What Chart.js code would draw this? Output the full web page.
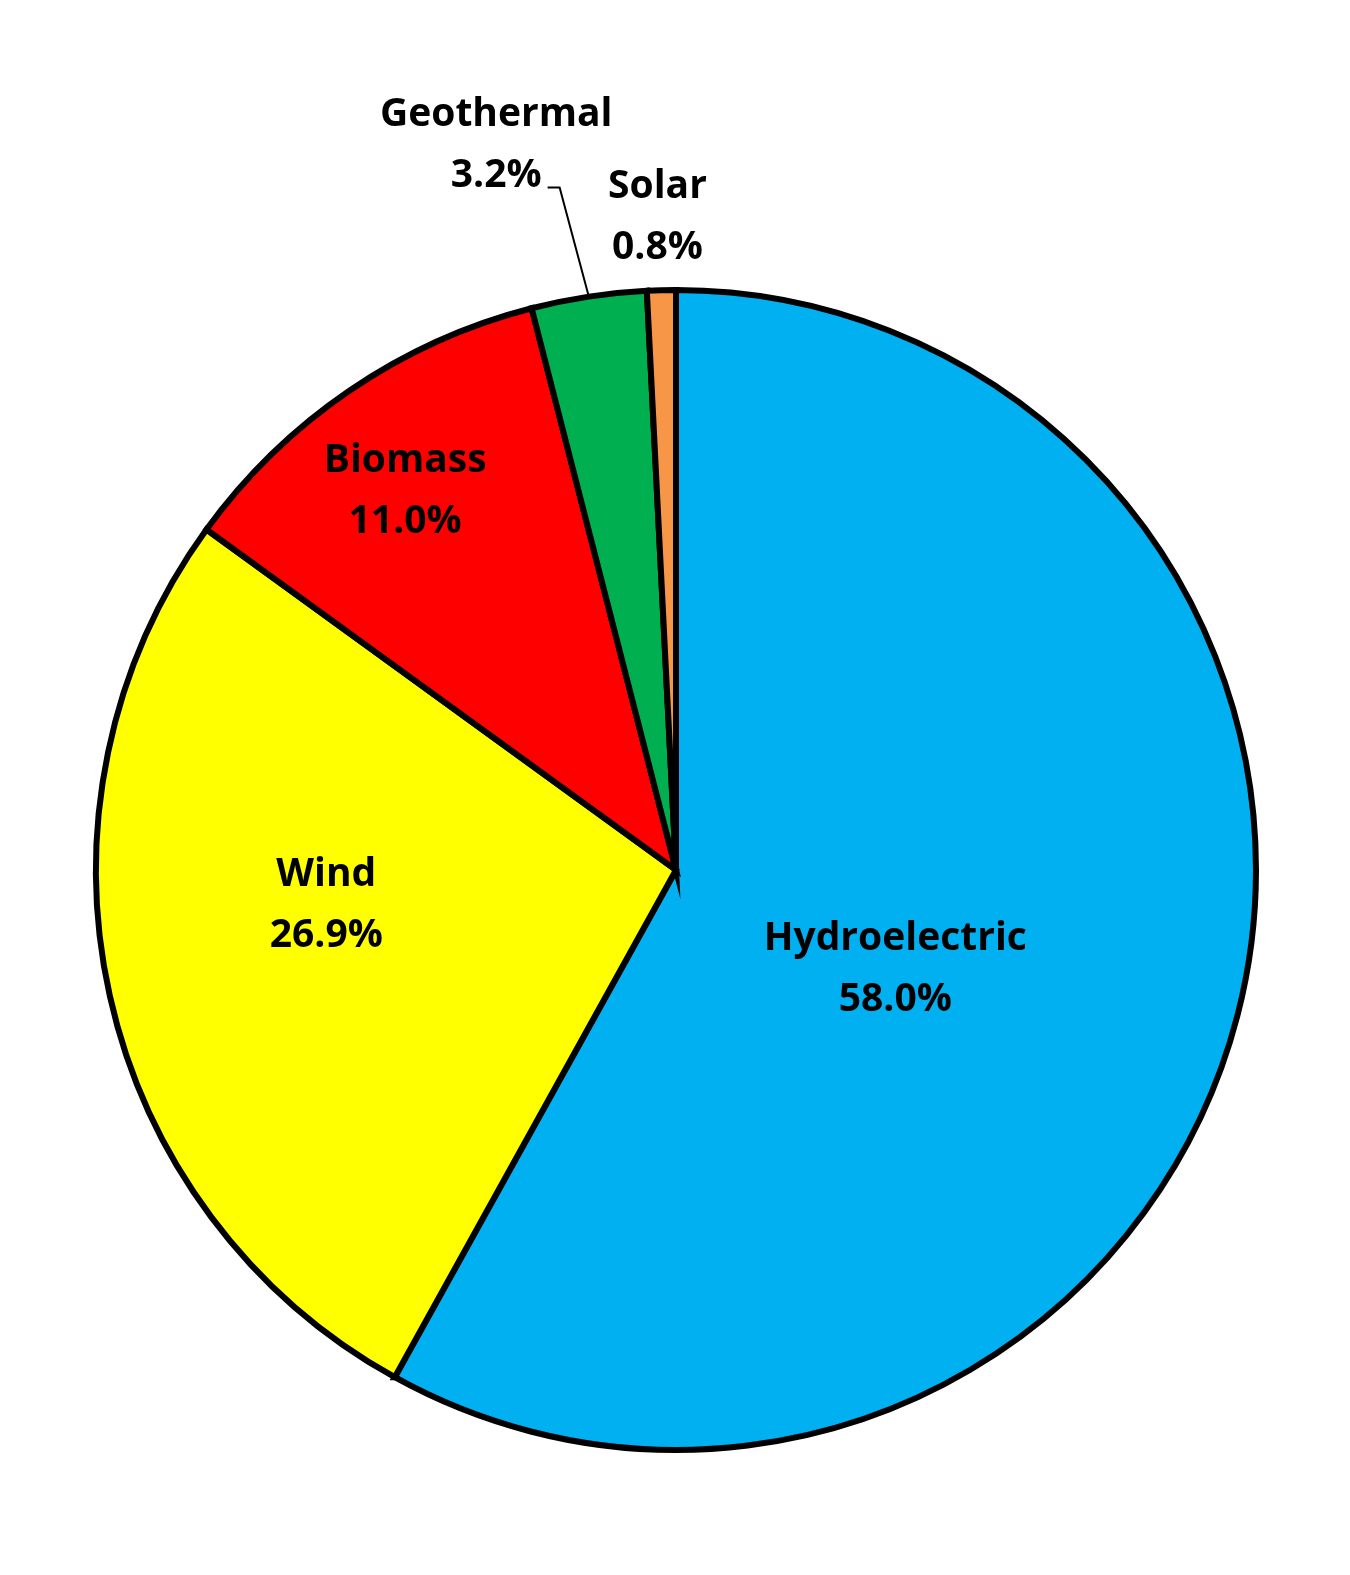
<!DOCTYPE html>
<html>
<head>
<meta charset="utf-8">
<script src="https://cdn.jsdelivr.net/npm/chart.js@4.4.0/dist/chart.umd.min.js"></script>
<style>
  html, body { margin: 0; padding: 0; background: #fff; }
  #wrap { width: 1350px; height: 1575px; }
</style>
</head>
<body>
<div id="wrap"><canvas id="pieChart" width="1350" height="1575"></canvas></div>
<script>
const categories = ['Hydroelectric', 'Wind', 'Biomass', 'Geothermal', 'Solar'];
const shares = [58.0, 26.9, 11.0, 3.2, 0.8];
const sliceColors = ['#00B0F0', '#FFFF00', '#FF0000', '#00B050', '#F79646'];

// where each label block sits, relative to the pie centre, in units of radius
const labelSpots = [
    { dx: 0.378, dy: 0.172 },
    { dx: -0.603, dy: 0.061 },
    { dx: -0.467, dy: -0.652 },
    { dx: -0.310, dy: -1.250, leader: true },
    { dx: -0.032, dy: -1.126 }
];

const labelFont = 'bold 39px "Open Sans", sans-serif';
const lineGap = 61;

const pieLabels = {
    id: 'pieLabels',
    afterDatasetsDraw(chart) {
        const ctx = chart.ctx;
        const meta = chart.getDatasetMeta(0);
        ctx.save();
        ctx.font = labelFont;
        ctx.fillStyle = '#000';
        ctx.textAlign = 'center';
        ctx.textBaseline = 'middle';
        meta.data.forEach((arc, i) => {
            const { x, y, outerRadius, startAngle, endAngle } = arc.getProps(['x', 'y', 'outerRadius', 'startAngle', 'endAngle'], true);
            const spot = labelSpots[i];
            const cx = x + spot.dx * outerRadius;
            const cy = y + spot.dy * outerRadius;
            const pct = shares[i].toFixed(1) + '%';
            ctx.fillText(categories[i], cx, cy - lineGap / 2);
            ctx.fillText(pct, cx, cy + lineGap / 2);

            if (spot.leader) {
                const mid = (startAngle + endAngle) / 2;
                const ex = x + Math.cos(mid) * outerRadius;
                const ey = y + Math.sin(mid) * outerRadius;
                const w = ctx.measureText(pct).width;
                const sx = cx + w / 2 + 6;
                const sy = cy + lineGap / 2 + 12;
                ctx.beginPath();
                ctx.strokeStyle = '#000';
                ctx.lineWidth = 2;
                ctx.moveTo(sx, sy);
                ctx.lineTo(sx + 12, sy);
                ctx.lineTo(ex, ey);
                ctx.stroke();
            }
        });
        ctx.restore();
    }
};

new Chart(document.getElementById('pieChart'), {
    type: 'pie',
    data: {
        labels: categories,
        datasets: [{
            data: shares,
            backgroundColor: sliceColors,
            borderColor: '#000',
            borderWidth: 6,
            hoverBorderWidth: 6,
            hoverOffset: 0,
            borderJoinStyle: 'miter'
        }]
    },
    options: {
        responsive: false,
        animation: false,
        layout: { padding: { left: 93, right: 91, top: 287, bottom: 122 } },
        plugins: {
            legend: { display: false },
            tooltip: { enabled: false }
        }
    },
    plugins: [pieLabels]
});
</script>
</body>
</html>
